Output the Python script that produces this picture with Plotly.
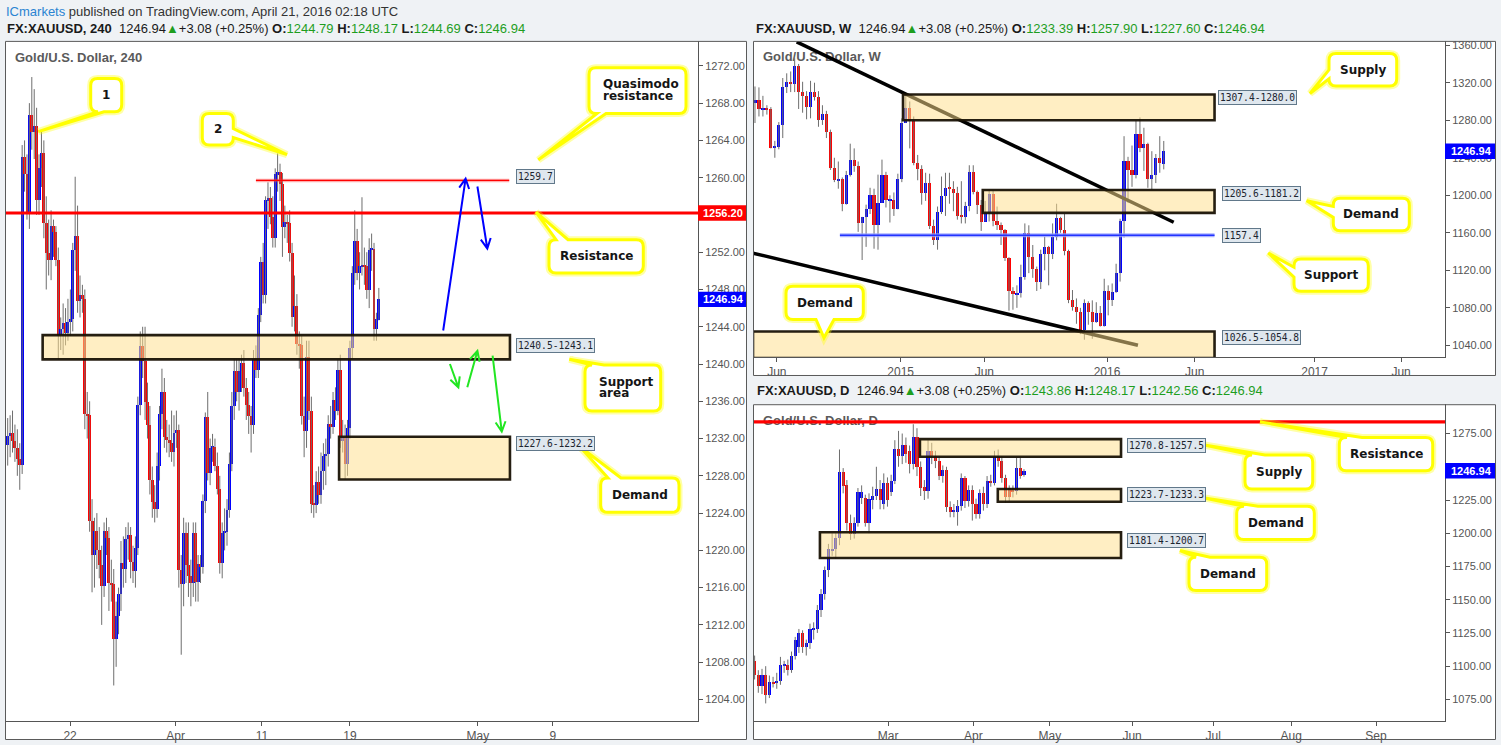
import math
import plotly.graph_objects as go

W, H = 1501, 745

# ------------------------------------------------------------------ 4H data
h4_open = [1231.3,1232.3,1232.6,1231.8,1231.0,1229.8,1229.2,1262.2,1260.4,1256.3,
 1266.7,1264.9,1265.6,1257.6,1261.0,1262.7,1255.1,1251.9,1251.2,1254.8,
 1254.2,1251.2,1243.1,1243.8,1244.4,1243.3,1244.5,1244.8,1252.2,1253.8,
 1246.8,1247.4,1247.0,1234.6,1234.5,1223.2,1219.5,1222.1,1220.0,1218.4,
 1216.2,1222.1,1221.3,1216.5,1216.4,1210.5,1213.0,1215.3,1218.7,1218.0,
 1221.2,1221.7,1218.8,1217.8,1220.3,1235.6,1241.9,1240.3,1235.9,1233.5,
 1227.6,1225.2,1224.5,1229.1,1234.6,1237.0,1232.2,1231.9,1231.5,1230.6,
 1232.6,1232.9,1217.9,1216.4,1221.9,1218.4,1217.3,1216.5,1221.9,1216.6,
 1218.6,1218.2,1225.3,1234.3,1228.3,1231.0,1231.1,1229.1,1226.6,1218.7,
 1221.9,1222.0,1224.3,1229.3,1235.5,1239.3,1237.0,1239.3,1240.1,1237.4,
 1235.6,1234.4,1233.5,1240.5,1239.4,1245.3,1251.0,1247.4,1257.6,1257.8,
 1255.8,1253.5,1260.4,1260.6,1259.3,1254.7,1255.3,1255.1,1251.9,1245.1,
 1246.2,1242.2,1242.0,1234.4,1232.8,1240.8,1235.0,1225.0,1224.9,1227.4,
 1226.0,1228.5,1230.1,1230.4,1233.6,1233.3,1236.2,1235.0,1239.4,1231.8,
 1232.2,1229.3,1233.1,1241.7,1249.8,1253.2,1249.8,1250.5,1250.6,1250.5,
 1248.0,1252.3,1252.4,1243.8,1244.79]
h4_high = [1234.2,1234.5,1235.0,1233.5,1233.0,1231.5,1263.5,1264.0,1262.5,1268.0,
 1270.8,1269.5,1267.5,1262.5,1265.0,1264.0,1258.0,1255.5,1256.5,1255.5,
 1254.8,1252.5,1245.0,1246.5,1246.0,1247.0,1248.0,1253.0,1260.1,1257.0,
 1249.5,1248.5,1248.0,1237.0,1236.0,1225.5,1223.5,1224.0,1222.5,1220.5,
 1223.0,1223.5,1222.5,1219.0,1218.0,1214.5,1216.0,1221.0,1221.5,1222.5,
 1223.0,1222.5,1220.5,1221.5,1236.5,1243.5,1244.0,1244.0,1238.0,1235.5,
 1229.0,1227.0,1230.5,1235.5,1239.5,1238.5,1234.0,1233.5,1235.0,1234.5,
 1235.0,1233.5,1219.5,1223.5,1223.0,1223.0,1219.0,1223.0,1223.0,1219.5,
 1219.5,1226.0,1234.8,1237.0,1232.0,1232.5,1232.0,1230.5,1228.0,1223.0,
 1224.5,1225.5,1230.5,1237.0,1240.5,1240.5,1240.5,1241.0,1241.5,1238.5,
 1237.0,1235.5,1241.5,1242.0,1246.0,1251.5,1253.0,1258.0,1259.5,1259.0,
 1258.0,1261.0,1262.6,1261.5,1260.5,1257.0,1256.0,1256.5,1253.0,1249.5,
 1247.5,1243.5,1243.0,1236.5,1242.5,1242.5,1236.5,1227.0,1228.5,1229.0,
 1230.5,1231.5,1232.0,1234.5,1235.5,1237.0,1237.5,1240.5,1241.0,1234.0,
 1233.5,1234.0,1242.5,1250.5,1256.5,1254.5,1252.0,1257.9,1252.5,1252.0,
 1253.5,1254.0,1253.0,1245.5,1248.17]
h4_low = [1229.1,1230.0,1230.5,1229.5,1228.0,1226.5,1228.2,1258.5,1255.5,1254.5,
 1263.0,1262.0,1256.0,1256.0,1259.0,1253.5,1248.0,1249.5,1249.0,1251.5,
 1250.5,1240.5,1241.5,1241.0,1242.0,1242.5,1243.0,1243.5,1250.0,1245.5,
 1245.0,1245.5,1233.0,1232.0,1222.0,1215.5,1216.0,1218.0,1217.0,1212.0,
 1215.0,1219.5,1213.5,1214.5,1205.5,1207.5,1211.0,1213.5,1216.0,1216.5,
 1219.0,1217.0,1216.5,1216.0,1219.5,1234.5,1238.5,1234.0,1232.0,1226.0,
 1223.5,1223.0,1223.5,1227.5,1233.0,1231.0,1230.5,1230.0,1229.5,1229.0,
 1231.0,1216.0,1208.8,1214.0,1216.5,1215.0,1214.0,1215.0,1214.5,1214.5,
 1216.5,1217.5,1224.0,1227.5,1227.0,1229.5,1228.5,1226.0,1217.5,1217.0,
 1220.0,1220.5,1223.5,1228.5,1234.0,1236.0,1235.0,1237.0,1236.5,1234.0,
 1232.5,1230.5,1232.5,1238.5,1238.5,1244.5,1246.5,1246.5,1254.5,1255.0,
 1252.5,1252.5,1258.5,1257.5,1251.5,1253.5,1253.0,1251.0,1244.0,1243.5,
 1241.0,1239.5,1233.5,1230.0,1231.0,1234.0,1224.0,1223.5,1224.0,1225.0,
 1225.0,1226.5,1227.0,1229.0,1232.0,1232.5,1234.0,1234.5,1231.0,1230.5,
 1227.6,1228.0,1232.0,1240.5,1248.5,1249.0,1248.0,1249.5,1248.5,1247.0,
 1246.0,1250.0,1242.5,1242.5,1244.69]
h4_close = [1232.3,1232.6,1231.8,1231.0,1229.8,1229.2,1262.2,1260.4,1256.3,1266.7,
 1264.9,1265.6,1257.6,1261.0,1262.7,1255.1,1251.9,1251.2,1254.8,1254.2,
 1251.2,1243.1,1243.8,1244.4,1243.3,1244.5,1244.8,1252.2,1253.8,1246.8,
 1247.4,1247.0,1234.6,1234.5,1223.2,1219.5,1222.1,1220.0,1218.4,1216.2,
 1222.1,1221.3,1216.5,1216.4,1210.5,1213.0,1215.3,1218.7,1218.0,1221.2,
 1221.7,1218.8,1217.8,1220.3,1235.6,1241.9,1240.3,1235.9,1233.5,1227.6,
 1225.2,1224.5,1229.1,1234.6,1237.0,1232.2,1231.9,1231.5,1230.6,1232.6,
 1232.9,1217.9,1216.4,1221.9,1218.4,1217.3,1216.5,1221.9,1216.6,1218.6,
 1218.2,1225.3,1234.3,1228.3,1231.0,1231.1,1229.1,1226.6,1218.7,1221.9,
 1222.0,1224.3,1229.3,1235.5,1239.3,1237.0,1239.3,1240.1,1237.4,1235.6,
 1234.4,1233.5,1240.5,1239.4,1245.3,1251.0,1247.4,1257.6,1257.8,1255.8,
 1253.5,1260.4,1260.6,1259.3,1254.7,1255.3,1255.1,1251.9,1245.1,1246.2,
 1242.2,1242.0,1234.4,1232.8,1240.8,1235.0,1225.0,1224.9,1227.4,1226.0,
 1228.5,1230.1,1230.4,1233.6,1233.3,1236.2,1235.0,1239.4,1231.8,1232.2,
 1229.3,1233.1,1241.7,1249.8,1253.2,1249.8,1250.5,1250.6,1250.5,1248.0,
 1252.3,1252.4,1243.8,1244.8,1246.94]

# ------------------------------------------------------------------ weekly data
wk_open = [1298,1302,1292,1293,1292,1251,1252,1275,1316,1321,
 1319,1338,1310,1306,1294,1310,1305,1280,1287,1268,
 1229,1216,1217,1191,1222,1238,1231,1171,1177,1186,
 1200,1168,1192,1222,1195,1195,1186,1217,1277,1293,
 1279,1234,1228,1203,1213,1167,1152,1182,1199,1208,
 1207,1203,1178,1177,1189,1225,1204,1190,1172,1181,
 1201,1173,1168,1163,1133,1098,1094,1096,1113,1160,
 1134,1121,1108,1138,1145,1137,1156,1176,1163,1141,
 1088,1081,1076,1057,1085,1076,1065,1075,1061,1098,
 1089,1097,1117,1173,1237,1227,1222,1265,1250,1255,
 1217,1222,1240,1233.39]
wk_high = [1316,1315,1306,1296,1294,1258,1278,1325,1330,1332,
 1346,1340,1321,1311,1322,1320,1311,1296,1290,1270,
 1240,1236,1219,1226,1255,1250,1236,1177,1190,1208,
 1207,1222,1238,1225,1200,1203,1223,1282,1307,1300,
 1284,1243,1232,1224,1223,1174,1188,1220,1224,1224,
 1215,1209,1215,1193,1232,1232,1205,1195,1194,1205,
 1205,1188,1171,1164,1134,1102,1104,1126,1170,1168,
 1147,1124,1142,1156,1146,1170,1191,1177,1180,1142,
 1099,1090,1080,1089,1087,1088,1086,1082,1111,1104,
 1106,1127,1175,1263,1241,1253,1280,1283,1272,1256,
 1247,1244,1263,1257.90]
wk_low = [1277,1284,1284,1286,1250,1240,1249,1261,1309,1310,
 1310,1292,1288,1281,1282,1301,1273,1275,1261,1227,
 1214,1207,1183,1190,1220,1225,1161,1131,1145,1180,
 1143,1142,1192,1187,1171,1178,1185,1214,1277,1250,
 1232,1216,1190,1194,1164,1147,1142,1180,1178,1191,
 1183,1174,1170,1170,1183,1201,1180,1162,1172,1172,
 1167,1163,1147,1130,1077,1078,1080,1091,1110,1117,
 1112,1098,1100,1120,1104,1132,1152,1160,1136,1085,
 1077,1063,1052,1046,1062,1047,1064,1060,1060,1072,
 1082,1096,1108,1155,1192,1209,1218,1246,1226,1208,
 1206,1213,1224,1227.60]
wk_close = [1302,1292,1293,1292,1251,1252,1275,1316,1321,1319,
 1338,1310,1306,1294,1310,1305,1280,1287,1268,1229,
 1216,1217,1191,1222,1238,1231,1171,1177,1186,1200,
 1168,1192,1222,1195,1195,1186,1217,1277,1293,1279,
 1234,1228,1203,1213,1167,1152,1182,1199,1208,1207,
 1203,1178,1177,1189,1225,1204,1190,1172,1181,1201,
 1173,1168,1163,1133,1098,1095,1096,1113,1160,1134,
 1121,1108,1138,1145,1137,1156,1176,1163,1141,1088,
 1081,1076,1057,1085,1076,1065,1075,1061,1098,1089,
 1097,1117,1173,1237,1227,1222,1265,1250,1255,1217,
 1222,1240,1234,1246.94]

# ------------------------------------------------------------------ daily data
d1_open = [1104.0,1093.3,1085.0,1093.0,1078.0,1088.0,1087.0,1089.0,1100.0,1101.0,
 1097.0,1107.5,1114.0,1124.5,1114.0,1117.5,1127.0,1128.0,1142.0,1154.5,
 1172.5,1187.0,1188.2,1196.5,1246.0,1236.0,1207.5,1199.5,1207.5,1226.0,
 1226.0,1207.5,1225.0,1228.0,1233.0,1221.5,1238.0,1230.7,1239.5,1263.0,
 1258.0,1266.0,1262.0,1252.0,1272.0,1250.0,1234.5,1231.5,1262.0,1258.0,
 1254.0,1243.0,1247.5,1219.5,1216.0,1216.0,1220.0,1241.5,1224.0,1232.0,
 1221.5,1214.5,1230.0,1221.5,1239.5,1238.0,1257.5,1254.5,1241.5,1234.0,
 1232.5,1231.5,1249.0,1243.86]
d1_high = [1108.0,1097.0,1098.0,1100.0,1093.0,1092.0,1095.0,1107.0,1104.0,1105.0,
 1111.0,1122.0,1128.0,1127.0,1120.0,1132.0,1133.0,1146.0,1158.0,1175.0,
 1192.0,1200.0,1200.0,1263.0,1249.0,1240.0,1214.0,1212.0,1234.0,1236.0,
 1229.0,1230.0,1235.0,1250.0,1240.0,1245.0,1242.0,1244.0,1270.0,1277.0,
 1275.0,1272.0,1266.0,1282.0,1279.0,1254.0,1240.0,1270.0,1268.0,1262.0,
 1257.0,1251.0,1250.0,1224.0,1222.0,1225.0,1245.0,1243.0,1236.0,1236.0,
 1226.0,1233.0,1235.0,1243.0,1244.0,1262.0,1263.0,1258.0,1244.0,1236.0,
 1236.0,1257.0,1257.0,1248.17]
d1_low = [1090.0,1080.0,1079.0,1072.0,1076.0,1084.0,1083.0,1086.0,1095.0,1093.0,
 1095.0,1105.0,1110.0,1110.0,1108.0,1113.0,1120.0,1125.0,1137.0,1150.0,
 1167.0,1183.0,1180.7,1191.0,1230.0,1202.0,1195.0,1196.0,1205.0,1222.0,
 1205.0,1200.0,1218.0,1225.0,1218.0,1218.0,1220.0,1228.0,1237.0,1250.0,
 1252.0,1253.0,1245.0,1248.0,1243.0,1228.0,1225.0,1226.0,1252.0,1249.0,
 1240.0,1238.0,1216.0,1212.0,1212.0,1205.7,1217.0,1219.0,1220.0,1209.5,
 1211.0,1211.0,1217.0,1219.0,1235.0,1236.0,1250.0,1238.0,1223.0,1224.0,
 1227.0,1229.0,1241.0,1242.56]
d1_close = [1093.3,1085.0,1093.0,1078.0,1088.0,1087.0,1089.0,1101.0,1101.0,1097.0,
 1107.5,1119.5,1124.5,1114.0,1117.5,1128.0,1128.7,1142.0,1154.5,1172.5,
 1188.0,1188.2,1196.5,1246.0,1235.7,1207.5,1199.5,1207.5,1230.7,1230.7,
 1207.5,1225.7,1228.0,1233.0,1224.5,1238.0,1224.5,1239.5,1263.0,1258.0,
 1266.5,1259.5,1252.0,1272.0,1249.5,1233.7,1231.5,1262.0,1258.2,1254.0,
 1243.2,1247.5,1219.5,1215.7,1216.2,1220.2,1241.5,1224.0,1232.0,1221.5,
 1214.5,1230.2,1221.5,1239.5,1238.2,1257.5,1254.0,1241.5,1227.0,1227.0,
 1231.5,1249.0,1243.2,1246.94]

# ------------------------------------------------------------------ texts / levels
hdr_h4 = ['FX:XAUUSD', '240', '1244.79', '1248.17', '1244.69', '1246.94']
hdr_wk = ['FX:XAUUSD', 'W', '1233.39', '1257.90', '1227.60', '1246.94']
hdr_d1 = ['FX:XAUUSD', 'D', '1243.86', '1248.17', '1242.56', '1246.94']
last_price = 1246.94
change_txt = '+3.08 (+0.25%)'

h4_tick_pos = [25.9, 69.7, 105.5, 142.0, 195.1, 226.2]
h4_tick_txt = ['22', 'Apr', '11', '19', 'May', '9']
h4_price_ticks = [1204,1208,1212,1216,1220,1224,1228,1232,1236,1240,1244,1248,1252,1256,1260,1264,1268,1272]
wk_tick_pos = [5.5, 36.7, 57.8, 88.7, 110.8, 141.0, 162.8]
wk_tick_txt = ['Jun', '2015', 'Jun', '2016', 'Jun', '2017', 'Jun']
wk_price_ticks = [1040,1080,1120,1160,1200,1240,1280,1320,1360]
d1_tick_pos = [36.2, 59.3, 80.0, 102.3, 124.3, 145.4, 168.4]
d1_tick_txt = ['Mar', 'Apr', 'May', 'Jun', 'Jul', 'Aug', 'Sep']
d1_price_ticks = [1075,1100,1125,1150,1175,1200,1225,1275]

h4_resistance = 1256.2
h4_qm = 1259.7
h4_support_zone = (1240.5, 1243.1)
h4_demand_zone = (1227.6, 1232.2)
wk_supply_zone = (1280.0, 1307.4)
wk_demand_zone = (1181.2, 1205.6)
wk_support = 1157.4
wk_demand_low = (1026.5, 1054.8)
wk_trend_upper = [(10.5, 1363.5), (105.5, 1171.3)]
wk_trend_lower = [(-0.5, 1138.3), (96.5, 1040.1)]
d1_resistance = 1283.8
d1_supply_zone = (1257.5, 1270.8)
d1_demand_zone = (1223.7, 1233.3)
d1_demand_low = (1181.4, 1200.7)

# ------------------------------------------------------------------ geometry
PAN = {
    'h4': dict(px=(5, 698), py=(39, 721), xr=(-1.12, 286.43), yr=(1201.68, 1274.68)),
    'wk': dict(px=(753, 1445), py=(39, 356), xr=(-0.5, 173.87), yr=(1027.56, 1364.57)),
    'd1': dict(px=(753, 1445), py=(403.3, 721), xr=(-0.44, 187.1), yr=(1058.72, 1297.05)),
}

def fx(x): return x / W
def fy(y): return 1 - y / H

def X(p, v):
    a = PAN[p]; return a['px'][0] + (v - a['xr'][0]) * (a['px'][1] - a['px'][0]) / (a['xr'][1] - a['xr'][0])
def Y(p, v):
    a = PAN[p]; return a['py'][1] - (v - a['yr'][0]) * (a['py'][1] - a['py'][0]) / (a['yr'][1] - a['yr'][0])
def invX(p, x):
    a = PAN[p]; return a['xr'][0] + (x - a['px'][0]) * (a['xr'][1] - a['xr'][0]) / (a['px'][1] - a['px'][0])
def invY(p, y):
    a = PAN[p]; return a['yr'][0] + (a['py'][1] - y) * (a['yr'][1] - a['yr'][0]) / (a['py'][1] - a['py'][0])

AX = {'h4': ('x', 'y'), 'wk': ('x2', 'y2'), 'd1': ('x3', 'y3')}

fig = go.Figure()

def candles(p, o, h, l, c, width, minh):
    xa, ya = AX[p]
    xs = list(range(len(o)))
    col = ['#0000ff' if cc >= oo else '#ff0000' for oo, cc in zip(o, c)]
    base = [min(oo, cc) for oo, cc in zip(o, c)]
    hgt = [max(abs(cc - oo), minh) for oo, cc in zip(o, c)]
    wx, wy = [], []
    for x, hh, ll in zip(xs, h, l):
        wx += [x, x, None]; wy += [ll, hh, None]
    fig.add_trace(go.Scatter(x=wx, y=wy, mode='lines', line=dict(color='#6e6e6e', width=1),
                             xaxis=xa, yaxis=ya, hoverinfo='skip', showlegend=False))
    fig.add_trace(go.Bar(x=xs, y=hgt, base=base, width=width,
                         marker=dict(color=col, line=dict(width=0)),
                         xaxis=xa, yaxis=ya, hoverinfo='skip', showlegend=False))

def title(p, txt, x, y):
    xa, ya = AX[p]
    fig.add_trace(go.Scatter(x=[invX(p, x)], y=[invY(p, y)], mode='text', text=['<b>' + txt + '</b>'],
                             textposition='middle right', cliponaxis=False,
                             textfont=dict(family='Liberation Sans', size=13, color='#5a5a5a'),
                             xaxis=xa, yaxis=ya, hoverinfo='skip', showlegend=False))

title('h4', 'Gold/U.S. Dollar, 240', 15, 56.5)
title('wk', 'Gold/U.S. Dollar, W', 763, 56)
title('d1', 'Gold/U.S. Dollar, D', 763, 421)
candles('h4', h4_open, h4_high, h4_low, h4_close, 1.22, 0.15)
candles('wk', wk_open, wk_high, wk_low, wk_close, 0.8, 1.2)
candles('d1', d1_open, d1_high, d1_low, d1_close, 0.85, 0.9)

shapes = []
annots = []

FRAMES = [(5, 39, 747, 740), (753, 39, 1496, 375), (753, 403.3, 1496, 740)]
for (a, b, c, d) in FRAMES:
    shapes.append(dict(type='rect', xref='paper', yref='paper', x0=fx(a), x1=fx(c), y0=fy(b), y1=fy(d),
                       fillcolor='white', line=dict(width=0), layer='below'))

ZFILL = 'rgba(255,222,140,0.52)'
ZLINE = dict(color='rgba(25,18,5,0.95)', width=2.6)

def hline(p, price, x0=None, x1=None, color='red', width=3):
    xa, ya = AX[p]
    if x0 is None:
        shapes.append(dict(type='line', xref=xa + ' domain', yref=ya, x0=0, x1=1, y0=price, y1=price,
                           line=dict(color=color, width=width)))
    else:
        shapes.append(dict(type='line', xref=xa, yref=ya, x0=x0, x1=x1, y0=price, y1=price,
                           line=dict(color=color, width=width)))

def zone(p, lo, hi, x0, x1):
    xa, ya = AX[p]
    shapes.append(dict(type='rect', xref=xa, yref=ya, x0=x0, x1=x1, y0=lo, y1=hi,
                       fillcolor=ZFILL, line=ZLINE))

def seg(p, pts, color, width):
    xa, ya = AX[p]
    shapes.append(dict(type='line', xref=xa, yref=ya, x0=pts[0][0], y0=pts[0][1], x1=pts[1][0], y1=pts[1][1],
                       line=dict(color=color, width=width)))

hline('h4', h4_resistance, color='#ff0000', width=3)
hline('h4', h4_qm, 103, 208.1, color='rgba(255,70,70,0.45)', width=3.5)
hline('h4', h4_qm, 103, 208.1, color='#ff0000', width=1.2)
zone('h4', *h4_support_zone, 14.5, 208.4)
zone('h4', *h4_demand_zone, 137.5, 208.4)
seg('wk', wk_trend_upper, '#000000', 3.5)
seg('wk', wk_trend_lower, '#000000', 3.5)
hline('wk', wk_support, 21.4, 115.8, color='rgba(150,160,255,0.8)', width=4)
hline('wk', wk_support, 21.4, 115.8, color='#2233ff', width=1.6)
zone('wk', *wk_supply_zone, 37.3, 115.8)
zone('wk', *wk_demand_zone, 57.4, 115.8)
zone('wk', *wk_demand_low, -0.5, 115.8)
hline('d1', d1_resistance, color='#ff0000', width=3.2)
zone('d1', *d1_supply_zone, 44.8, 99.3)
zone('d1', *d1_demand_zone, 65.9, 99.3)
zone('d1', *d1_demand_low, 17.7, 99.3)

for (a, b, c, d) in FRAMES:
    shapes.append(dict(type='rect', xref='paper', yref='paper', x0=fx(a + 0.5), x1=fx(c - 0.5),
                       y0=fy(b + 0.5), y1=fy(d - 0.5), line=dict(color='#5a5a5a', width=1)))

def P(x, y):
    return f"{fx(x):.6f},{fy(y):.6f}"

ARROWS = [((180.7, 1243.6), (190.0, 1259.9), '#0000ff'),
          ((194.9, 1259.05), (199.0, 1252.4), '#0000ff'),
          ((183.5, 1240.0), (187.0, 1237.5), '#22e622'),
          ((190.7, 1237.5), (194.9, 1241.4), '#22e622'),
          ((201.2, 1240.9), (205.0, 1232.75), '#22e622')]
for (a, b, col) in ARROWS:
    x0, y0 = X('h4', a[0]), Y('h4', a[1])
    x1, y1 = X('h4', b[0]), Y('h4', b[1])
    dx, dy = x1 - x0, y1 - y0
    L = math.hypot(dx, dy); ux, uy = -dx / L, -dy / L
    hd, ang = 11, math.radians(27)
    p1 = (x1 + hd * (ux * math.cos(ang) - uy * math.sin(ang)), y1 + hd * (ux * math.sin(ang) + uy * math.cos(ang)))
    p2 = (x1 + hd * (ux * math.cos(-ang) - uy * math.sin(-ang)), y1 + hd * (ux * math.sin(-ang) + uy * math.cos(-ang)))
    path = f"M{P(x0, y0)} L{P(x1, y1)} M{P(*p1)} L{P(x1, y1)} L{P(*p2)}"
    shapes.append(dict(type='path', xref='paper', yref='paper', path=path, line=dict(color=col, width=2)))

def callout_path(x0, y0, x1, y1, side, b1, b2, tip, r=7):
    s = f"M{P(x0 + r, y0)}"
    if side == 'top':
        s += f" L{P(b1, y0)} L{P(*tip)} L{P(b2, y0)}"
    s += f" L{P(x1 - r, y0)} Q{P(x1, y0)} {P(x1, y0 + r)}"
    if side == 'right':
        s += f" L{P(x1, b1)} L{P(*tip)} L{P(x1, b2)}"
    s += f" L{P(x1, y1 - r)} Q{P(x1, y1)} {P(x1 - r, y1)}"
    if side == 'bottom':
        s += f" L{P(b1, y1)} L{P(*tip)} L{P(b2, y1)}"
    s += f" L{P(x0 + r, y1)} Q{P(x0, y1)} {P(x0, y1 - r)}"
    if side == 'left':
        s += f" L{P(x0, b1)} L{P(*tip)} L{P(x0, b2)}"
    s += f" L{P(x0, y0 + r)} Q{P(x0, y0)} {P(x0 + r, y0)} Z"
    return s

CALLOUTS = [
    ((90.7, 76.7, 121.7, 110), 'bottom', 104, 98, (38.3, 130), [('1', 106.2, 93.3, 'c')]),
    ((202.3, 111.7, 233.3, 143.3), 'right', 127, 136, (287, 153), [('2', 217.8, 127.5, 'c')]),
    ((589, 66, 686, 111.7), 'bottom', 606, 597, (538.3, 158.3), [('Quasimodo', 601, 82.7, 'l'), ('resistance', 601, 94.5, 'l')]),
    ((549, 238.3, 643.3, 271.7), 'top', 556, 568, (536, 210.7), [('Resistance', 596, 255, 'c')]),
    ((585, 364, 660.7, 410), 'top', 592, 604, (569.3, 358.3), [('Support', 597, 380.7, 'l'), ('area', 597, 392.5, 'l')]),
    ((600.7, 477.3, 679, 511.7), 'top', 608, 621, (580, 446), [('Demand', 640, 494, 'c')]),
    ((1329, 51.7, 1396.7, 84.3), 'left', 77, 68, (1310, 91.7), [('Supply', 1362.8, 68, 'c')]),
    ((1333.3, 196.7, 1409.3, 229.3), 'left', 216, 205, (1306.7, 199.3), [('Demand', 1371.3, 213, 'c')]),
    ((1294, 257.7, 1368.3, 290), 'left', 276, 266, (1268.3, 251.7), [('Support', 1331.2, 273.8, 'c')]),
    ((786, 285, 863.3, 318.3), 'bottom', 834, 816, (824, 336.7), [('Demand', 824.6, 301.7, 'c')]),
    ((1339.3, 436.7, 1432.7, 470), 'top', 1347, 1362, (1260, 421), [('Resistance', 1386, 453.3, 'c')]),
    ((1245, 454.3, 1312.7, 488.3), 'top', 1252, 1265, (1203, 444), [('Supply', 1278.8, 471.3, 'c')]),
    ((1236.7, 505.7, 1314.3, 539), 'top', 1244, 1258, (1203, 497), [('Demand', 1275.5, 522.3, 'c')]),
    ((1189, 556.7, 1266.7, 590), 'top', 1196, 1210, (1180, 550), [('Demand', 1227.8, 573.3, 'c')]),
]
for (box, side, b1, b2, tip, texts) in CALLOUTS:
    path = callout_path(*box, side, b1, b2, tip)
    shapes.append(dict(type='path', xref='paper', yref='paper', path=path,
                       line=dict(color='rgba(255,255,0,0.35)', width=7)))
    shapes.append(dict(type='path', xref='paper', yref='paper', path=path, fillcolor='white',
                       line=dict(color='#ffff00', width=3)))
    for (t, tx, ty, al) in texts:
        annots.append(dict(xref='paper', yref='paper', x=fx(tx), y=fy(ty), text='<b>' + t + '</b>',
                           showarrow=False, xanchor='center' if al == 'c' else 'left', yanchor='middle',
                           font=dict(family='DejaVu Sans', size=12, color='#151515')))

ZL = [('1259.7', 515.7, 174.8), ('1240.5-1243.1', 515.7, 344.5), ('1227.6-1232.2', 515.7, 443),
      ('1307.4-1280.0', 1218.3, 95.9), ('1205.6-1181.2', 1222.3, 192.5), ('1157.4', 1222.3, 234),
      ('1026.5-1054.8', 1222.3, 336.2),
      ('1270.8-1257.5', 1126.7, 444.2), ('1223.7-1233.3', 1126.7, 494), ('1181.4-1200.7', 1126.7, 539.7)]
for (t, x, y) in ZL:
    annots.append(dict(xref='paper', yref='paper', x=fx(x), y=fy(y), text=t, showarrow=False,
                       xanchor='left', yanchor='middle', bgcolor='#dfe7ee', bordercolor='#61788a',
                       borderwidth=1, borderpad=1,
                       font=dict(family='DejaVu Sans Mono', size=9.6, color='#1c2530')))

def price_box(p, price, color, x0, x1, hh=15.5):
    yc = Y(p, price)
    shapes.append(dict(type='rect', xref='paper', yref='paper', x0=fx(x0), x1=fx(x1),
                       y0=fy(yc - hh / 2), y1=fy(yc + hh / 2), fillcolor=color, line=dict(width=0)))
    annots.append(dict(xref='paper', yref='paper', x=fx((x0 + x1) / 2 + 1), y=fy(yc), text=f'<b>{price:.2f}</b>',
                       showarrow=False, xanchor='center', yanchor='middle',
                       font=dict(family='Liberation Sans', size=11, color='white')))

price_box('h4', h4_resistance, '#ff0000', 698, 746)
price_box('h4', last_price, '#0000ff', 698, 746)
price_box('wk', last_price, '#0000ff', 1445, 1495)
price_box('d1', last_price, '#0000ff', 1445, 1495)

GREEN = '#1e9e1e'
def header(v):
    return (f"<b>{v[0]}, {v[1]}</b>  {last_price:.2f}<span style='color:{GREEN}'>▲</span>{change_txt} "
            f"<b>O:</b><span style='color:{GREEN}'>{v[2]}</span> <b>H:</b><span style='color:{GREEN}'>{v[3]}</span> "
            f"<b>L:</b><span style='color:{GREEN}'>{v[4]}</span> <b>C:</b><span style='color:{GREEN}'>{v[5]}</span>")

annots.append(dict(xref='paper', yref='paper', x=fx(4), y=fy(9.5), xanchor='left', yanchor='middle',
                   showarrow=False,
                   text="<span style='color:#2a84d2'>ICmarkets</span> published on TradingView.com, April 21, 2016 02:18 UTC",
                   font=dict(family='Liberation Sans', size=13, color='#333333')))
for (v, x, y) in [(hdr_h4, 5, 26.5), (hdr_wk, 754, 26.5), (hdr_d1, 755, 389.5)]:
    annots.append(dict(xref='paper', yref='paper', x=fx(x), y=fy(y), xanchor='left', yanchor='middle',
                       showarrow=False, text=header(v),
                       font=dict(family='Liberation Sans', size=13, color='#1a1a1a')))

def xaxis_cfg(p, tv, tt):
    a = PAN[p]
    return dict(domain=[fx(a['px'][0]), fx(a['px'][1])], range=list(a['xr']), tickvals=tv, ticktext=tt,
                showgrid=False, zeroline=False, showline=True, linecolor='#555555', linewidth=1,
                ticks='outside', ticklen=4, tickcolor='#555555',
                tickfont=dict(family='Liberation Sans', size=12, color='#555555'), fixedrange=True)

def yaxis_cfg(p, tv, anchor):
    a = PAN[p]
    return dict(domain=[fy(a['py'][1]), fy(a['py'][0])], range=list(a['yr']), tickvals=tv, tickformat='.2f',
                side='right', anchor=anchor, showgrid=False, zeroline=False, showline=True,
                linecolor='#555555', linewidth=1, ticks='outside', ticklen=4, tickcolor='#555555',
                tickfont=dict(family='Liberation Sans', size=11, color='#555555'), fixedrange=True)

fig.update_layout(
    width=W, height=H, autosize=False, margin=dict(l=0, r=0, t=0, b=0),
    paper_bgcolor='#eff2f5', plot_bgcolor='white', showlegend=False, barmode='overlay',
    hovermode=False, bargap=0,
    xaxis=dict(xaxis_cfg('h4', h4_tick_pos, h4_tick_txt), anchor='y'),
    yaxis=yaxis_cfg('h4', h4_price_ticks, 'x'),
    xaxis2=dict(xaxis_cfg('wk', wk_tick_pos, wk_tick_txt), anchor='y2'),
    yaxis2=yaxis_cfg('wk', wk_price_ticks, 'x2'),
    xaxis3=dict(xaxis_cfg('d1', d1_tick_pos, d1_tick_txt), anchor='y3'),
    yaxis3=yaxis_cfg('d1', d1_price_ticks, 'x3'),
    shapes=shapes, annotations=annots,
)

fig.write_html("out.html", config={'displayModeBar': False},
               post_script="document.body.style.margin='0';document.body.style.padding='0';document.body.style.overflow='hidden';")
